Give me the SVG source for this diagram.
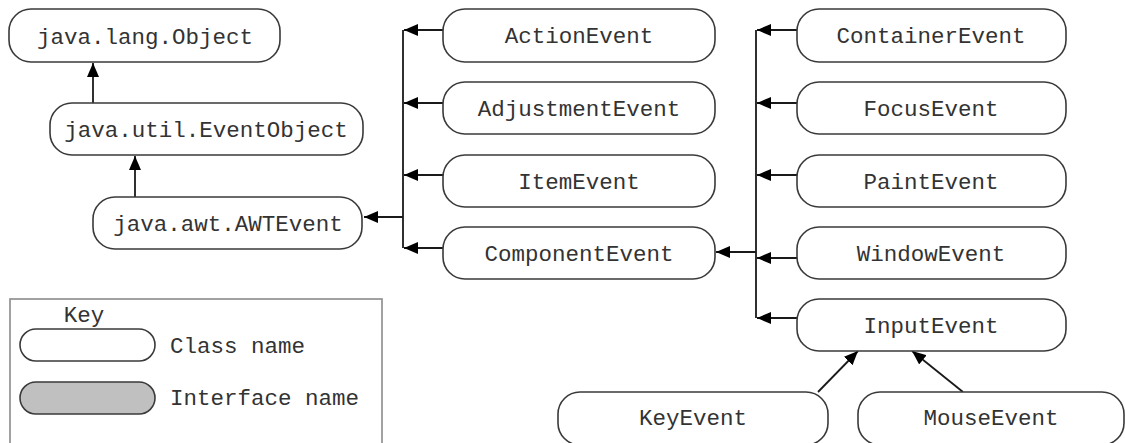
<svg xmlns="http://www.w3.org/2000/svg" width="1125" height="443" viewBox="0 0 1125 443">
  <style>
    .box { fill: #ffffff; stroke: #3a3a3a; stroke-width: 1.6; }
    .iface { fill: #c0c0c0; stroke: #3a3a3a; stroke-width: 1.6; }
    .lbl { font-family: "Liberation Mono", "Courier New", monospace; font-size: 22.5px; fill: #333333; text-anchor: middle; }
    .key-lbl { font-family: "Liberation Mono", "Courier New", monospace; font-size: 22.5px; fill: #333333; }
    .edge { fill: none; stroke: #1a1a1a; stroke-width: 1.8; }
    .keyframe { fill: #ffffff; stroke: #8a8a8a; stroke-width: 1.6; }
  </style>
  <defs>
    <marker id="head" viewBox="0 0 14 12" refX="14" refY="6" markerWidth="14" markerHeight="12" markerUnits="userSpaceOnUse" orient="auto">
      <path d="M0,0 L14,6 L0,12 Z" fill="#000000"/>
    </marker>
  </defs>

  <rect width="1125" height="443" fill="#ffffff"/>

  <!-- inheritance connectors -->
  <g id="connectors">
    <line class="edge" x1="93" y1="103" x2="93" y2="63" marker-end="url(#head)"/>
    <line class="edge" x1="135" y1="197" x2="135" y2="156" marker-end="url(#head)"/>

    <!-- AWTEvent subclasses -->
    <line class="edge" x1="403" y1="30" x2="403" y2="248"/>
    <line class="edge" x1="403" y1="217" x2="364" y2="217" marker-end="url(#head)"/>
    <line class="edge" x1="443" y1="30" x2="404" y2="30" marker-end="url(#head)"/>
    <line class="edge" x1="443" y1="103" x2="404" y2="103" marker-end="url(#head)"/>
    <line class="edge" x1="443" y1="175" x2="404" y2="175" marker-end="url(#head)"/>
    <line class="edge" x1="443" y1="248" x2="404" y2="248" marker-end="url(#head)"/>

    <!-- ComponentEvent subclasses -->
    <line class="edge" x1="756" y1="30" x2="756" y2="318"/>
    <line class="edge" x1="756" y1="252" x2="716" y2="252" marker-end="url(#head)"/>
    <line class="edge" x1="797" y1="30" x2="757" y2="30" marker-end="url(#head)"/>
    <line class="edge" x1="797" y1="103" x2="757" y2="103" marker-end="url(#head)"/>
    <line class="edge" x1="797" y1="175" x2="757" y2="175" marker-end="url(#head)"/>
    <line class="edge" x1="797" y1="258" x2="757" y2="258" marker-end="url(#head)"/>
    <line class="edge" x1="797" y1="318" x2="757" y2="318" marker-end="url(#head)"/>

    <!-- InputEvent subclasses -->
    <line class="edge" x1="818" y1="392" x2="858" y2="351" marker-end="url(#head)"/>
    <line class="edge" x1="963" y1="392" x2="912" y2="351" marker-end="url(#head)"/>
  </g>

  <g id="object">
    <rect class="box" x="9" y="9" width="271" height="53" rx="22"/>
    <text class="lbl" x="145" y="44">java.lang.Object</text>
  </g>
  <g id="eventobject">
    <rect class="box" x="50" y="103" width="313" height="52" rx="22"/>
    <text class="lbl" x="206" y="137">java.util.EventObject</text>
  </g>
  <g id="awtevent">
    <rect class="box" x="93" y="197" width="269" height="52" rx="22"/>
    <text class="lbl" x="228" y="231">java.awt.AWTEvent</text>
  </g>

  <g id="actionevent">
    <rect class="box" x="443" y="9" width="272" height="53" rx="22"/>
    <text class="lbl" x="579" y="43">ActionEvent</text>
  </g>
  <g id="adjustmentevent">
    <rect class="box" x="443" y="82" width="272" height="52" rx="22"/>
    <text class="lbl" x="579" y="116">AdjustmentEvent</text>
  </g>
  <g id="itemevent">
    <rect class="box" x="443" y="155" width="272" height="52" rx="22"/>
    <text class="lbl" x="579" y="189">ItemEvent</text>
  </g>
  <g id="componentevent">
    <rect class="box" x="443" y="227" width="272" height="52" rx="22"/>
    <text class="lbl" x="579" y="261">ComponentEvent</text>
  </g>

  <g id="containerevent">
    <rect class="box" x="797" y="9" width="269" height="53" rx="22"/>
    <text class="lbl" x="931" y="43">ContainerEvent</text>
  </g>
  <g id="focusevent">
    <rect class="box" x="797" y="82" width="269" height="52" rx="22"/>
    <text class="lbl" x="931" y="116">FocusEvent</text>
  </g>
  <g id="paintevent">
    <rect class="box" x="797" y="155" width="269" height="52" rx="22"/>
    <text class="lbl" x="931" y="189">PaintEvent</text>
  </g>
  <g id="windowevent">
    <rect class="box" x="797" y="227" width="269" height="52" rx="22"/>
    <text class="lbl" x="931" y="261">WindowEvent</text>
  </g>
  <g id="inputevent">
    <rect class="box" x="797" y="299" width="269" height="52" rx="22"/>
    <text class="lbl" x="931" y="333">InputEvent</text>
  </g>

  <g id="keyevent">
    <rect class="box" x="558" y="392" width="270" height="53" rx="22"/>
    <text class="lbl" x="693" y="425">KeyEvent</text>
  </g>
  <g id="mouseevent">
    <rect class="box" x="858" y="392" width="266" height="53" rx="22"/>
    <text class="lbl" x="991" y="425">MouseEvent</text>
  </g>

  <!-- legend -->
  <g id="key">
    <rect class="keyframe" x="10" y="299" width="372" height="150"/>
    <text class="lbl" x="84" y="322">Key</text>
    <rect class="box" x="20" y="329" width="135" height="32" rx="16"/>
    <text class="key-lbl" x="170" y="353">Class name</text>
    <rect class="iface" x="20" y="382" width="135" height="32" rx="16"/>
    <text class="key-lbl" x="170" y="405">Interface name</text>
  </g>
</svg>
